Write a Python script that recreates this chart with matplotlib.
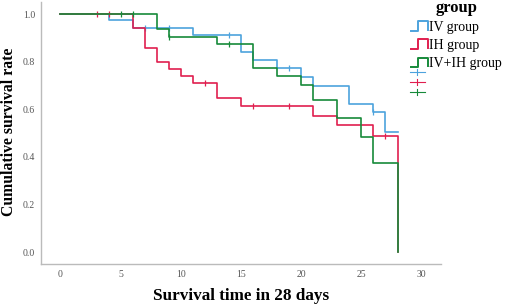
import numpy as np
import matplotlib.pyplot as plt
from matplotlib.lines import Line2D
from matplotlib.legend_handler import HandlerBase

plt.rcParams['font.family'] = ['Liberation Serif', 'DejaVu Serif']

# Kaplan-Meier steps (time in days, survival after the step)
iv_t = [0, 4, 6, 11, 15, 16, 18, 20, 21, 24, 26, 27, 28]
iv_s = [1.0, 0.974, 0.942, 0.912, 0.842, 0.808, 0.773, 0.735, 0.699, 0.624, 0.587, 0.504, 0.504]
iv_cens = [7, 9, 14, 19, 26]

ih_t = [0, 6, 7, 8, 9, 10, 11, 13, 15, 21, 23, 26, 28]
ih_s = [1.0, 0.942, 0.856, 0.80, 0.769, 0.74, 0.709, 0.646, 0.613, 0.573, 0.535, 0.488, 0.0]
ih_cens = [3, 4, 12, 16, 19, 27]

both_t = [0, 8, 9, 13, 16, 18, 20, 21, 23, 25, 26, 28]
both_s = [1.0, 0.939, 0.904, 0.874, 0.773, 0.739, 0.703, 0.637, 0.563, 0.485, 0.373, 0.0]
both_cens = [5, 6, 9, 14]

labels = ['IV group', 'IH group', 'IV+IH group']
colors = ['#4da3dd', '#e01f4f', '#168a3a']


def surv_at(t, times, surv):
    i = np.searchsorted(times, t, side='right') - 1
    return surv[i]


fig = plt.figure(figsize=(5.05, 3.07), dpi=100)
ax = fig.add_axes([0.0806, 0.140, 0.7924, 0.853])

groups = [(iv_t, iv_s, iv_cens), (ih_t, ih_s, ih_cens), (both_t, both_s, both_cens)]
for (t, s, c), col in zip(groups, colors):
    ax.step(t, s, where='post', color=col, lw=1.2)
    cy = [surv_at(x, t, s) for x in c]
    ax.plot(c, cy, ls='none', marker='|', ms=5, mew=0.9, color=col)

ax.set_xlim(-1.64, 31.6)
ax.set_ylim(-0.05, 1.05)
ax.set_xticks([0, 5, 10, 15, 20, 25, 30])
ax.set_yticks([0.0, 0.2, 0.4, 0.6, 0.8, 1.0])
ax.set_yticklabels(['0.0', '0.2', '0.4', '0.6', '0.8', '1.0'])
ax.tick_params(length=0, labelsize=7, labelcolor='#555555')
ax.tick_params(axis='x', pad=4)
ax.tick_params(axis='y', pad=4)
for sp in ['top', 'right']:
    ax.spines[sp].set_visible(False)
for sp in ['left', 'bottom']:
    ax.spines[sp].set_color('#bbbbbb')
    ax.spines[sp].set_linewidth(1.0)

fig.text(0.478, 0.036, 'Survival time in 28 days', ha='center', va='center',
         fontsize=12.3, fontweight='bold')
fig.text(0.018, 0.57, 'Cumulative survival rate', ha='center', va='center',
         rotation=90, fontsize=11.3, fontweight='bold')


class StepHandler(HandlerBase):
    def create_artists(self, legend, orig, xd, yd, w, h, fontsize, trans):
        xs = [xd, xd + 0.45 * w, xd + 0.45 * w, xd + w, xd + w]
        ys = [yd, yd, yd + h, yd + h, yd + 0.1 * h]
        ln = Line2D(xs, ys, color=orig.get_color(), lw=1.4, transform=trans)
        return [ln]


class CrossHandler(HandlerBase):
    def create_artists(self, legend, orig, xd, yd, w, h, fontsize, trans):
        cx = xd + w / 2
        cy = yd + h / 2
        hl = Line2D([xd, xd + w], [cy, cy], color=orig.get_color(), lw=0.8, transform=trans)
        vl = Line2D([cx, cx], [cy - h * 0.6, cy + h * 0.6], color=orig.get_color(),
                    lw=0.8, transform=trans)
        return [hl, vl]


step_handles = [Line2D([], [], color=c) for c in colors]
fig.legend(step_handles, labels, handler_map={Line2D: StepHandler()},
           loc='upper left', bbox_to_anchor=(0.789, 1.042), frameon=False,
           fontsize=10, handlelength=1.2, handletextpad=0.1, labelspacing=0.38,
           title='group', title_fontproperties={'weight': 'bold', 'size': 12})

cross_handles = [Line2D([], [], color=c) for c in colors]
fig.legend(cross_handles, ['', '', ''], handler_map={Line2D: CrossHandler()},
           loc='upper left', bbox_to_anchor=(0.799, 0.795),
           frameon=False, fontsize=5, handlelength=2.2, labelspacing=0.6, handletextpad=0.0)

fig.savefig('out.png', dpi=100)
